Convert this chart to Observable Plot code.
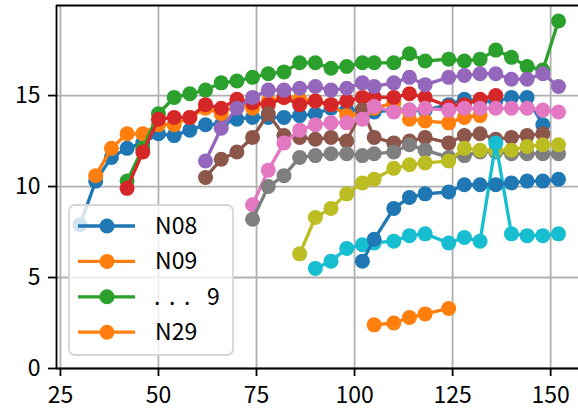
<!DOCTYPE html>
<html>
<head>
<meta charset="utf-8">
<script src="https://cdn.jsdelivr.net/npm/d3@7"></script>
<script src="https://cdn.jsdelivr.net/npm/@observablehq/plot@0.6"></script>
<style>
  html, body { margin: 0; padding: 0; background: white; }
  #wrap { position: relative; width: 578px; height: 416px; font-family: "Noto Sans CJK JP", "Noto Sans", sans-serif; }
  #legend { position: absolute; left: 0; top: 0; }
</style>
</head>
<body>
<div id="wrap"></div>
<script>
// ---- data ----
const names = ["N08","N09","N10","N11","N12","N13","N14","N15","N16","N17","N18","N29"];

const xN08 = [30,34,38,42,46,50,54,58,62,66,70,74,78,82,86,90,94,98,102,105,110,114,118,124,128,132,136,140,144,148];
const yN08 = [7.9,10.3,11.6,12.1,12.4,12.9,12.8,13.1,13.4,13.4,13.7,13.8,13.8,13.8,13.9,14.0,14.3,14.2,14.2,14.1,14.2,14.2,14.2,14.5,14.8,14.7,14.7,14.9,14.9,13.4];

const xN09 = [34,38,42,46,50,54,58,62,66,70,74,78,82,86,90,94,98,102,105,110,114,118,124,128,132];
const yN09 = [10.6,12.1,12.9,12.9,13.4,13.4,13.8,14.3,14.0,14.5,14.3,14.7,14.9,14.8,14.7,14.5,13.9,14.0,14.3,14.6,13.7,13.6,13.5,13.8,13.9];

const xN10 = [42,46,50,54,58,62,66,70,74,78,82,86,90,94,98,102,105,110,114,118,124,128,132,136,140,144,148,152];
const yN10 = [10.3,12.1,14.0,14.9,15.1,15.3,15.7,15.8,16.0,16.2,16.3,16.8,16.8,16.5,16.6,16.8,16.8,16.8,17.3,16.9,17.0,16.9,17.0,17.5,17.1,16.6,16.4,19.1];

const xN11 = [42,46,50,54,58,62,66,70,74,78,82,86,90,94,98,102,105,110,114,118,124,128,132,136];
const yN11 = [9.9,11.9,13.7,13.8,13.8,14.5,14.3,14.8,14.6,14.5,14.9,14.5,14.7,14.5,14.7,14.9,14.9,14.9,15.1,14.9,14.4,14.5,14.8,15.0];

const xN12 = [62,66,70,74,78,82,86,90,94,98,102,105,110,114,118,124,128,132,136,140,144,148,152];
const yN12 = [11.4,13.2,14.3,14.9,15.3,15.3,15.4,15.5,15.3,15.4,15.7,15.5,15.7,16.0,15.6,16.0,16.1,16.2,16.2,15.9,15.9,16.2,15.5];

const xN13 = [62,66,70,74,78,82,86,90,94,98,102,105,110,114,118,124,128,132,136,140,144,148];
const yN13 = [10.5,11.5,11.9,12.7,14.0,12.8,12.7,12.6,12.7,12.5,14.2,12.7,12.4,12.5,12.7,12.4,12.8,12.9,12.6,12.7,12.8,12.9];

const xN14 = [74,78,82,86,90,94,98,102,105,110,114,118,124,128,132,136,140,144,148,152];
const yN14 = [9.0,10.9,12.4,13.1,13.4,13.5,13.5,13.7,14.4,14.1,14.2,14.3,14.2,14.3,14.3,14.3,14.3,14.3,14.2,14.1];

const xN15 = [74,78,82,86,90,94,98,102,105,110,114,118,124,128,132,136,140,144,148,152];
const yN15 = [8.2,10.0,10.6,11.6,11.7,11.8,11.8,11.7,11.8,11.9,12.3,12.0,11.6,11.7,11.9,11.9,11.8,11.8,11.8,11.8];

const xN16 = [86,90,94,98,102,105,110,114,118,124,128,132,136,140,144,148,152];
const yN16 = [6.3,8.3,8.8,9.6,10.2,10.4,11.0,11.2,11.3,11.4,12.1,12.0,12.0,12.0,12.2,12.3,12.3];

const xN17 = [90,94,98,102,105,110,114,118,124,128,132,136,140,144,148,152];
const yN17 = [5.5,5.9,6.6,6.8,6.9,7.0,7.3,7.4,6.9,7.2,7.0,12.4,7.4,7.3,7.3,7.4];

const xN18 = [102,105,110,114,118,124,128,132,136,140,144,148,152];
const yN18 = [5.9,7.1,8.8,9.4,9.6,9.7,10.1,10.1,10.1,10.2,10.3,10.3,10.4];

const xN29 = [105,110,114,118,124];
const yN29 = [2.4,2.5,2.8,3.0,3.3];

const xTicks = [25,50,75,100,125,150];
const yTicks = [0,5,10,15];
const legendLabels = ["N08","N09",". . .","N29"];
const legendSuffix = ["","","9",""];

// ---- styles ----
const tab10 = ["#1f77b4","#ff7f0e","#2ca02c","#d62728","#9467bd","#8c564b","#e377c2","#7f7f7f","#bcbd22","#17becf"];
const seriesColors = names.map((_, i) => tab10[i % 10]);
const FONT = '"Noto Sans CJK JP", "Noto Sans", sans-serif';

const xs = [xN08,xN09,xN10,xN11,xN12,xN13,xN14,xN15,xN16,xN17,xN18,xN29];
const ys = [yN08,yN09,yN10,yN11,yN12,yN13,yN14,yN15,yN16,yN17,yN18,yN29];
const rows = names.map((name, k) => xs[k].map((x, i) => ({name, x, y: ys[k][i]})));

const xDomain = [24, 157.1];
const yDomain = [0, 19.95];

const seriesMarks = rows.flatMap(d => [
  Plot.line(d, {x: "x", y: "y", stroke: "name", strokeWidth: 3.3}),
  Plot.dot(d, {x: "x", y: "y", fill: "name", r: 7.5})
]);

const chart = Plot.plot({
  width: 578, height: 416,
  marginLeft: 56, marginRight: 0, marginTop: 5, marginBottom: 48,
  style: {fontFamily: FONT, fontSize: "23px", color: "black", background: "white", overflow: "visible"},
  x: {domain: xDomain, label: null},
  y: {domain: yDomain, label: null},
  color: {type: "ordinal", domain: names, range: seriesColors},
  marks: [
    Plot.gridX(xTicks, {stroke: "#b0b0b0", strokeOpacity: 1, strokeWidth: 1.8}),
    Plot.gridY(yTicks, {stroke: "#b0b0b0", strokeOpacity: 1, strokeWidth: 1.8}),
    ...seriesMarks,
    Plot.ruleX([xDomain[0]], {stroke: "black", strokeWidth: 1.8}),
    Plot.ruleY([yDomain[0], yDomain[1]], {stroke: "black", strokeWidth: 1.8}),
    Plot.axisX(xTicks, {tickSize: 8, tickPadding: 10, fontSize: 23, strokeWidth: 1.8, label: null, fill: "black"}),
    Plot.axisY(yTicks, {tickSize: 8, tickPadding: 8, fontSize: 23, strokeWidth: 1.8, label: null, fill: "black"})
  ]
});
document.getElementById("wrap").appendChild(chart);

// ---- legend ----
const lg = d3.select("#wrap").append("svg").attr("id", "legend")
  .attr("width", 578).attr("height", 416)
  .style("font-family", FONT).style("font-size", "23px");
lg.append("rect").attr("x", 69).attr("y", 205).attr("width", 164).attr("height", 150)
  .attr("rx", 6).attr("fill", "white").attr("fill-opacity", 0.8)
  .attr("stroke", "#d6d6d6").attr("stroke-width", 1.8);
const legendColorIdx = [0, 1, 2, 11];
legendLabels.forEach((lab, i) => {
  const cy = 226 + i * 35.4;
  const c = seriesColors[legendColorIdx[i]];
  lg.append("line").attr("x1", 78).attr("x2", 135).attr("y1", cy).attr("y2", cy)
    .attr("stroke", c).attr("stroke-width", 3.3);
  lg.append("circle").attr("cx", 107).attr("cy", cy).attr("r", 7.5).attr("fill", c);
  if (lab === ". . .") {
    const t = lg.append("text").attr("y", cy).attr("dy", "0.35em").attr("fill", "black");
    [154, 169, 184].forEach(x => t.append("tspan").attr("x", x).text("."));
    t.append("tspan").attr("x", 207).text(legendSuffix[i]);
  } else {
    lg.append("text").attr("x", 155).attr("y", cy).attr("dy", "0.35em").attr("fill", "black").text(lab);
  }
});
</script>
</body>
</html>
